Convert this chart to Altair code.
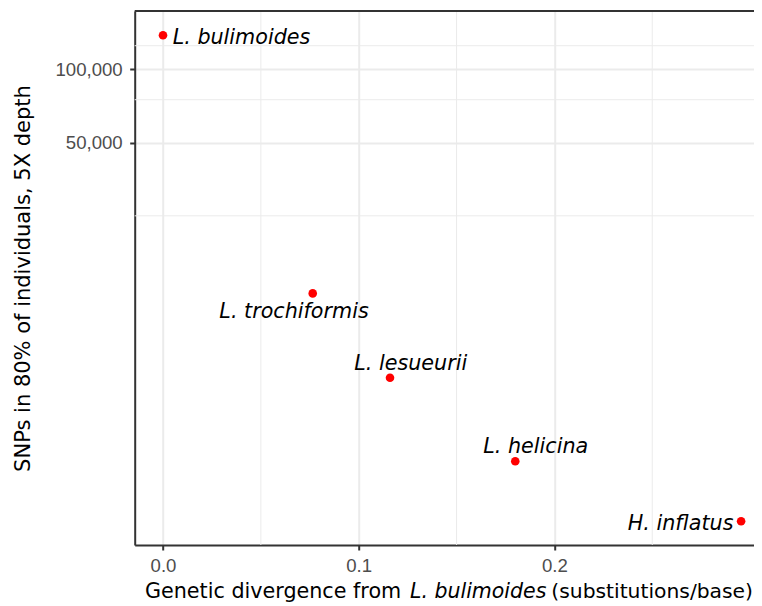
import altair as alt
import pandas as pd

species = ["L. bulimoides", "L. trochiformis", "L. lesueurii", "L. helicina", "H. inflatus"]
divergence = [0.0, 0.0765, 0.116, 0.180, 0.2954]
snps = [138000, 12000, 5400, 2450, 1390]

x_major = [0.0, 0.1, 0.2]
x_minor = [0.05, 0.15, 0.25]
y_major = [50000, 100000]
y_minor = [25000, 75000, 125000]

x_title_parts = ["Genetic divergence from", "L. bulimoides", "(substitutions/base)"]
y_title = "SNPs in 80% of individuals, 5X depth"

df = pd.DataFrame({"species": species, "div": divergence, "snps": snps})

W, H = 619.3, 534
TICKFONT = "Liberation Sans"
FONT = "DejaVu Sans"
GRID = "#EBEBEB"
DARK = "#333333"

xscale = alt.Scale(domain=[-0.01446, 0.30199], nice=False, zero=False)
yscale = alt.Scale(type="log", domain=[1110, 173600], nice=False, zero=False)

xaxis = alt.Axis(values=x_major, format=".1f", title=None, grid=True, gridColor=GRID,
                 gridWidth=2, domainColor=DARK, domainWidth=2, tickColor=DARK,
                 tickWidth=2, tickSize=5, labelFont=TICKFONT, labelFontSize=18.6,
                 labelColor="#4D4D4D", labelPadding=6.3)
yaxis = alt.Axis(values=y_major, format=",.0f", title=y_title, grid=True, gridColor=GRID,
                 gridWidth=2, domainColor=DARK, domainWidth=2, tickColor=DARK,
                 tickWidth=2, tickSize=5, labelFont=TICKFONT, labelFontSize=18.6,
                 labelColor="#4D4D4D", labelPadding=7.5, titleFont=FONT,
                 titleFontSize=21, titleFontWeight="normal", titleColor="black",
                 titleAngle=270, titleBaseline="alphabetic", titleX=-105.2)

X = alt.X("div:Q", scale=xscale, axis=xaxis)
Y = alt.Y("snps:Q", scale=yscale, axis=yaxis)

minor_x = alt.Chart(pd.DataFrame({"div": x_minor})).mark_rule(
    color=GRID, strokeWidth=1).encode(x=X)
minor_y = alt.Chart(pd.DataFrame({"snps": y_minor})).mark_rule(
    color=GRID, strokeWidth=1).encode(y=Y)

points = alt.Chart(df).mark_circle(color="#FF0000", opacity=1, size=74).encode(x=X, y=Y)

def label(name, align, dx, dy):
    return alt.Chart(df).transform_filter(alt.datum.species == name).mark_text(
        font=FONT, fontSize=20.7, fontStyle="italic", color="black", align=align,
        baseline="alphabetic", dx=dx, dy=dy).encode(x=X, y=Y, text="species:N")

labels = [
    label(species[0], "left", 9.7, 8.3),
    label(species[1], "center", -18.7, 25),
    label(species[2], "center", 20.7, -7.7),
    label(species[3], "center", 20.5, -8.3),
    label(species[4], "right", -7.7, 8.6),
]

one = pd.DataFrame({"a": [0]})
top_border = alt.Chart(one).mark_rule(color=DARK, strokeWidth=2).encode(
    x=alt.value(0), x2=alt.value(W), y=alt.value(0))

def title_piece(txt, xpos, italic, align, size):
    return alt.Chart(one).mark_text(
        font=FONT, fontSize=size, fontStyle="italic" if italic else "normal",
        color="black", align=align, baseline="alphabetic", text=txt).encode(
        x=alt.value(xpos), y=alt.value(587.3))

titles = [
    title_piece(x_title_parts[0], 10.3, False, "left", 20.7),
    title_piece(x_title_parts[1], 275.3, True, "left", 20.5),
    title_piece(x_title_parts[2], 618.3, False, "right", 20.3),
]

chart = alt.layer(minor_x, minor_y, points, *labels, top_border, *titles).properties(
    width=W, height=H,
    padding={"left": 126.7, "top": 3, "right": 0, "bottom": 60},
    autosize=alt.AutoSizeParams(type="none"),
    background="white",
).configure_view(stroke=None)

chart.save("out.html", embed_options={"renderer": "svg", "actions": False})
